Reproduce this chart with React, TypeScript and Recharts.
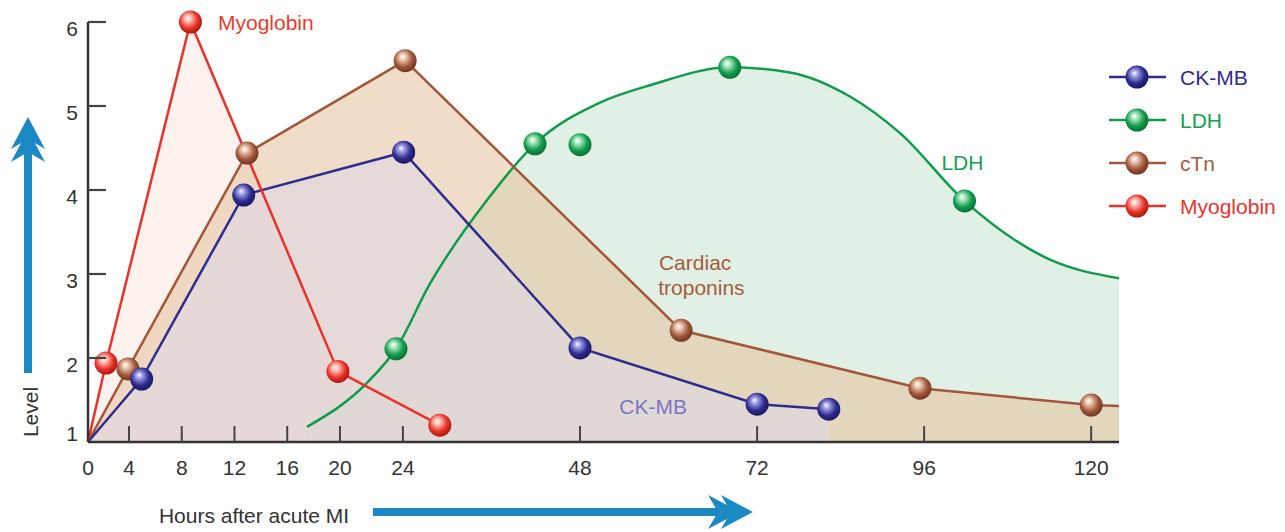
import React from 'react';
import { ComposedChart, Area, Line, XAxis, YAxis, ReferenceDot, Legend } from 'recharts';

// hours after MI -> relative level
const CKMB_HOURS = [0, 4.96, 12.7, 24.1, 48, 72, 82.3];
const CKMB_LEVEL = [1, 1.75, 3.94, 4.45, 2.12, 1.45, 1.39];

const CTN_HOURS = [0, 3.9, 12.95, 24.3, 61.7, 95.4, 120, 124];
const CTN_LEVEL = [1, 1.87, 4.44, 5.54, 2.33, 1.64, 1.44, 1.43];

const MYO_HOURS = [0, 1.76, 8.66, 19.85, 29.0];
const MYO_LEVEL = [1, 1.94, 6.0, 1.84, 1.2];

// LDH is a smooth trace; its markers are listed separately
const LDH_HOURS = [17.5, 21.7, 23.56, 27.7, 35.4, 41.9, 50.7, 57.6, 68.3, 76.7, 85.4, 92.5, 101.8, 114.1, 124];
const LDH_LEVEL = [1.18, 1.7, 2.11, 2.89, 3.88, 4.55, 5.04, 5.25, 5.46, 5.4, 5.11, 4.68, 3.87, 3.17, 2.95];
const LDH_MARK_HOURS = [23.56, 41.9, 48, 68.3, 101.8];
const LDH_MARK_LEVEL = [2.11, 4.55, 4.54, 5.46, 3.87];

const X_TICKS = [0, 4, 8, 12, 16, 20, 24, 48, 72, 96, 120];
const Y_TICKS = [1, 2, 3, 4, 5, 6];
const LEGEND_NAMES = ['CK-MB', 'LDH', 'cTn', 'Myoglobin'];

// the drawn time axis is not uniform: first day stretched, later days compressed
const AXIS_KNOTS = [0, 4, 20, 24, 72, 124];
const AXIS_STRETCH = [0.782, 1.006, 1.201, 0.563, 0.531];

const toPos = (h: number) => {
  let p = 0;
  for (let i = 0; i < AXIS_STRETCH.length; i++) {
    const a = AXIS_KNOTS[i];
    const b = AXIS_KNOTS[i + 1];
    if (h <= b || i === AXIS_STRETCH.length - 1) return p + (h - a) * AXIS_STRETCH[i];
    p += (b - a) * AXIS_STRETCH[i];
  }
  return p;
};
const fromPos = (pos: number) => {
  let p = 0;
  for (let i = 0; i < AXIS_STRETCH.length; i++) {
    const a = AXIS_KNOTS[i];
    const b = AXIS_KNOTS[i + 1];
    const len = (b - a) * AXIS_STRETCH[i];
    if (pos <= p + len || i === AXIS_STRETCH.length - 1) return a + (pos - p) / AXIS_STRETCH[i];
    p += len;
  }
  return 0;
};
const X_MAX = AXIS_KNOTS[AXIS_KNOTS.length - 1];

type Pt = { p: number; h: number; v: number };
const toPoints = (hours: number[], levels: number[]): Pt[] =>
  hours.map((h, i) => ({ p: toPos(h), h, v: levels[i] }));

const ckmb = toPoints(CKMB_HOURS, CKMB_LEVEL);
const ctn = toPoints(CTN_HOURS, CTN_LEVEL);
const myo = toPoints(MYO_HOURS, MYO_LEVEL);
const ldh = toPoints(LDH_HOURS, LDH_LEVEL);
const ldhMarks = toPoints(LDH_MARK_HOURS, LDH_MARK_LEVEL);

const FONT = '"Liberation Sans", Arial, Helvetica, sans-serif';
const FS = 21;
const AXIS = '#333';
const ARROW = '#1b87c3';

const SERIES: Record<string, { color: string; light: string; dark: string; text: string }> = {
  ckmb: { color: '#2e2c8e', light: '#a3a3ea', dark: '#17165e', text: '#2e2c8e' },
  ldh: { color: '#109c4b', light: '#aee9c3', dark: '#0a6c33', text: '#16a04f' },
  ctn: { color: '#a2573a', light: '#efcab8', dark: '#6c331f', text: '#a35a3e' },
  myo: { color: '#e8322a', light: '#ffc4ba', dark: '#a8150c', text: '#e9342a' },
};
const LEGEND_IDS = ['ckmb', 'ldh', 'ctn', 'myo'];

const NOTES = [
  { text: 'Myoglobin', h: 10.75, v: 6.0, color: '#ea3a2e', anchor: 'start' },
  { text: 'LDH', h: 101.5, v: 4.33, color: '#17a04f', anchor: 'middle' },
  { text: 'Cardiac', h: 58.7, v: 3.14, color: '#a65b3d', anchor: 'start' },
  { text: 'troponins', h: 58.6, v: 2.84, color: '#a65b3d', anchor: 'start' },
  { text: 'CK-MB', h: 57.9, v: 1.42, color: '#7c75c6', anchor: 'middle' },
];

function Ball({ cx, cy, id, r = 11.5 }: { cx?: number; cy?: number; id: string; r?: number }) {
  if (cx == null || cy == null) return <g />;
  return <circle cx={cx} cy={cy} r={r} fill={`url(#ball-${id})`} />;
}

// no marker at the origin or on the line running past 120 h
const dotFor = (id: string, skipFirst = true) => (props: any) => {
  const { cx, cy, index, payload } = props;
  const key = `${id}-${index}`;
  if ((skipFirst && index === 0) || payload.h > 120) return <g key={key} />;
  return <Ball key={key} cx={cx} cy={cy} id={id} />;
};

function XTick(props: any) {
  const { x, y, payload } = props;
  const hour = Math.round(fromPos(payload.value));
  return (
    <g>
      {hour > 0 && <line x1={x} x2={x} y1={y} y2={y - 16} stroke="#444" strokeWidth={2} />}
      <text x={x} y={y + 25} textAnchor="middle" dominantBaseline="central" fontSize={FS} fill="#333" fontFamily={FONT}>
        {hour}
      </text>
    </g>
  );
}

function YTick(props: any) {
  const { x, y, payload } = props;
  const v = payload.value;
  const axisX = x + 10;
  return (
    <g>
      {v > 1 && <line x1={axisX} x2={axisX + 18} y1={y} y2={y} stroke="#444" strokeWidth={2.2} />}
      <text x={x} y={v === 1 ? y - 9 : y + 6} textAnchor="end" dominantBaseline="central" fontSize={FS} fill="#333" fontFamily={FONT}>
        {v}
      </text>
    </g>
  );
}

function UpArrow({ cx, tip, tail }: { cx: number; tip: number; tail: number }) {
  const chevron = (t: number) => `${cx},${t} ${cx - 17},${t + 32} ${cx},${t + 22} ${cx + 17},${t + 32}`;
  return (
    <g fill={ARROW}>
      <rect x={cx - 4} y={tip + 28} width={8} height={tail - tip - 28} />
      <polygon points={chevron(tip)} />
      <polygon points={chevron(tip + 13)} />
    </g>
  );
}

function RightArrow({ x0, tip, cy }: { x0: number; tip: number; cy: number }) {
  const chevron = (t: number) => `${t},${cy} ${t - 32},${cy - 17} ${t - 22},${cy} ${t - 32},${cy + 17}`;
  return (
    <g fill={ARROW}>
      <rect x={x0} y={cy - 4} width={tip - 28 - x0} height={8} />
      <polygon points={chevron(tip)} />
      <polygon points={chevron(tip - 13)} />
    </g>
  );
}

function LevelTitle(props: any) {
  const vb = props.viewBox || { x: 0, y: 22, width: 88, height: 420 };
  const bottom = vb.y + vb.height;
  return (
    <g>
      <UpArrow cx={vb.x + 28} tip={vb.y + 95} tail={bottom - 69} />
      <text
        transform={`translate(${vb.x + 30}, ${bottom - 30}) rotate(-90)`}
        textAnchor="middle"
        dominantBaseline="central"
        fontSize={FS}
        fill="#333"
        fontFamily={FONT}
      >
        Level
      </text>
    </g>
  );
}

function HoursTitle(props: any) {
  const vb = props.viewBox || { x: 88, y: 442, width: 1031, height: 90 };
  return (
    <g>
      <text x={vb.x + 166} y={vb.y + 73} textAnchor="middle" dominantBaseline="central" fontSize={FS} fill="#333" fontFamily={FONT}>
        Hours after acute MI
      </text>
      <RightArrow x0={vb.x + 285} tip={vb.x + 665} cy={vb.y + 70} />
    </g>
  );
}

function LegendBox() {
  return (
    <svg width={185} height={180} style={{ overflow: 'visible' }}>
      {LEGEND_NAMES.map((name, i) => {
        const s = SERIES[LEGEND_IDS[i]];
        const y = 22 + i * 43;
        return (
          <g key={name}>
            <line x1={9} x2={66} y1={y} y2={y} stroke={s.color} strokeWidth={2.5} />
            <Ball cx={37} cy={y} id={LEGEND_IDS[i]} />
            <text x={80} y={y} dominantBaseline="central" fontSize={FS} fill={s.text} fontFamily={FONT}>
              {name}
            </text>
          </g>
        );
      })}
    </svg>
  );
}

export default function App() {
  return (
    <div style={{ position: 'absolute', left: 0, top: 0, width: 1285, height: 532, background: '#fff', fontFamily: FONT }}>
      <ComposedChart width={1285} height={532} margin={{ top: 22, right: 166, bottom: 0, left: 0 }}>
        <defs>
          {Object.entries(SERIES).map(([id, s]) => (
            <radialGradient key={id} id={`ball-${id}`} cx="45%" cy="42%" r="60%" fx="38%" fy="32%">
              <stop offset="0%" stopColor="#ffffff" />
              <stop offset="22%" stopColor={s.light} />
              <stop offset="65%" stopColor={s.color} />
              <stop offset="100%" stopColor={s.dark} />
            </radialGradient>
          ))}
        </defs>

        {/* fills */}
        <Area data={myo} dataKey="v" type="linear" stroke="none" fill="#fce6de" fillOpacity={0.5} dot={false} activeDot={false} isAnimationActive={false} />
        <Area data={ldh} dataKey="v" type="monotoneX" stroke="none" fill="#e1f0e5" fillOpacity={1} dot={false} activeDot={false} isAnimationActive={false} />
        <Area data={ctn} dataKey="v" type="linear" stroke="none" fill="#e3bd98" fillOpacity={0.52} dot={false} activeDot={false} isAnimationActive={false} />
        <Area data={ckmb} dataKey="v" type="linear" stroke="none" fill="#dfd8e5" fillOpacity={0.6} dot={false} activeDot={false} isAnimationActive={false} />

        {/* lines */}
        <Line data={ldh} dataKey="v" type="monotoneX" stroke={SERIES.ldh.color} strokeWidth={2.5} dot={false} activeDot={false} isAnimationActive={false} />
        <Line data={ctn} dataKey="v" type="linear" stroke={SERIES.ctn.color} strokeWidth={2.5} dot={false} activeDot={false} isAnimationActive={false} />
        <Line data={ckmb} dataKey="v" type="linear" stroke={SERIES.ckmb.color} strokeWidth={2.5} dot={false} activeDot={false} isAnimationActive={false} />

        {/* markers */}
        <Line data={ldhMarks} dataKey="v" stroke="none" dot={dotFor('ldh', false)} activeDot={false} isAnimationActive={false} />
        <Line data={ctn} dataKey="v" stroke="none" dot={dotFor('ctn')} activeDot={false} isAnimationActive={false} />
        <Line data={ckmb} dataKey="v" stroke="none" dot={dotFor('ckmb')} activeDot={false} isAnimationActive={false} />

        <Line data={myo} dataKey="v" type="linear" stroke={SERIES.myo.color} strokeWidth={2.5} dot={dotFor('myo')} activeDot={false} isAnimationActive={false} />

        {NOTES.map((n) => (
          <ReferenceDot
            key={n.text}
            x={toPos(n.h)}
            y={n.v}
            r={0}
            shape={(p: any) => (
              <text x={p.cx} y={p.cy} textAnchor={n.anchor as any} dominantBaseline="central" fontSize={FS} fill={n.color} fontFamily={FONT}>
                {n.text}
              </text>
            )}
          />
        ))}

        <XAxis
          type="number"
          dataKey="p"
          domain={[0, toPos(X_MAX)]}
          ticks={X_TICKS.map(toPos)}
          interval={0}
          height={90}
          tickLine={false}
          tickSize={0}
          tickMargin={0}
          tick={<XTick />}
          axisLine={{ stroke: AXIS, strokeWidth: 2.5 }}
          label={HoursTitle}
        />
        <YAxis
          type="number"
          domain={[1, 6]}
          ticks={Y_TICKS}
          interval={0}
          width={88}
          tickLine={false}
          tickSize={0}
          tickMargin={10}
          tick={<YTick />}
          axisLine={{ stroke: AXIS, strokeWidth: 2.5 }}
          label={LevelTitle}
        />
        <Legend
          layout="vertical"
          align="center"
          verticalAlign="middle"
          content={LegendBox}
          wrapperStyle={{ left: 1100, top: 55, width: 185 }}
        />
      </ComposedChart>
    </div>
  );
}
